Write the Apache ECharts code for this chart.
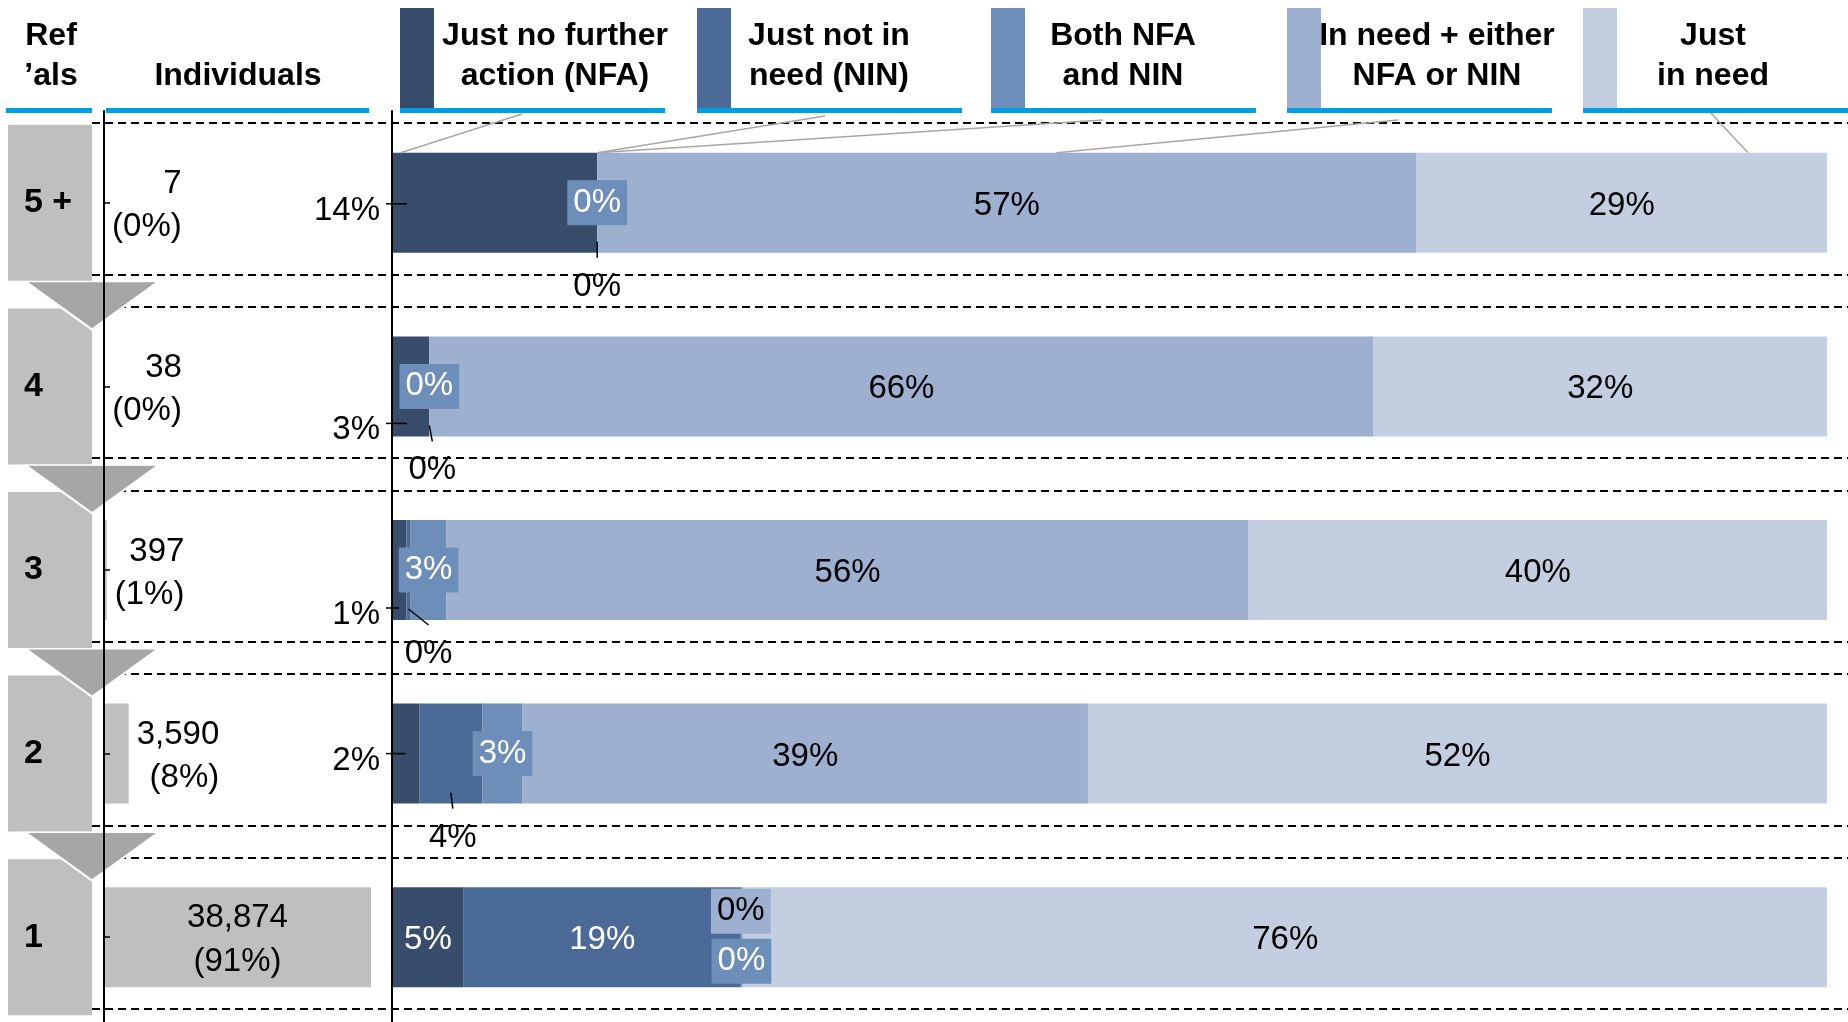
<!DOCTYPE html>
<html>
<head>
<meta charset="utf-8">
<title>Referrals</title>
<script src="https://cdn.jsdelivr.net/npm/echarts@6.0.0/dist/echarts.min.js"></script>
<style>
  html, body { margin: 0; padding: 0; background: #fff; }
  #chart { width: 1848px; height: 1022px; }
</style>
</head>
<body>
<div id="chart"></div>
<script>
// rows, top to bottom
var rowNames = ['5 +', '4', '3', '2', '1'];
var individuals = [7, 38, 397, 3590, 38874];

// share of each row's individuals, in %
var justNFA    = [14.3, 2.6, 1.0, 1.9, 5.0];
var justNIN    = [0, 0, 0.3, 4.4, 19.3];
var bothNFANIN = [0, 0, 2.5, 2.8, 0.1];
var needEither = [57.1, 65.8, 55.9, 39.4, 0.1];
var justNeed   = [28.6, 31.6, 40.3, 51.5, 75.5];

var seriesNames = ['Just no further action (NFA)', 'Just not in need (NIN)', 'Both NFA and NIN',
                   'In need + either NFA or NIN', 'Just in need'];
var legendLines = [['Just no further', 'action (NFA)'], ['Just not in', 'need (NIN)'],
                   ['Both NFA', 'and NIN'], ['In need + either', 'NFA or NIN'], ['Just', 'in need']];

var colors = ['#384c6c', '#4b6a98', '#6d8eb9', '#9db0cf', '#c3cee0'];
var FONT = "'Liberation Sans', Arial, sans-serif";
var BLUE = '#009fe3';
var BAR_H = 100;
var TEXT_DY = 3;   // glyphs sit a little low in the original

// where the moved labels sit (px nudges)
var nfaLabelDy = [5, 41, 42, 4, null];             // null = stays inside the bar
var ninLabelOffset = [[0, 81], [3, 81], [20, 81], [2, 81], null];
var bothLabelOffset = [[0, 0], [0, 0], [0, 0], [0, 0], [0, 24]];
var eitherLabelOffset = [null, null, null, null, [-2, -26]];

// header / legend blocks
var legendX = [400, 697, 991, 1287, 1583];
var legendTextX = [555, 829, 1123, 1437, 1713];
var legendAnchor = [[522, 114], [825, 116], [1103, 120], [1398, 120], [1708, 110]];
var legendTarget = [0.6, 14.3, 14.3, 46.3, 94.5];

var segData = [justNFA, justNIN, bothNFANIN, needEither, justNeed];
var total = individuals.reduce(function (a, b) { return a + b; }, 0);

var GRID_TOP = 111, GRID_H = 918;

// dashed separators: top and bottom of every row box
var dashY = [];
rowNames.forEach(function (n, r) {
    dashY.push([0, r - 0.02 - 0.412], [0, r - 0.02 + 0.412]);
});

function segLabel(s, r) {
    if (s === 0) {
        return nfaLabelDy[r] === null
            ? { position: 'inside', offset: [0, TEXT_DY], color: '#fff' }
            : { position: 'left', distance: 12, offset: [0, nfaLabelDy[r] + TEXT_DY], color: '#000' };
    }
    if (s === 1) {
        return ninLabelOffset[r] === null
            ? { position: 'inside', offset: [0, TEXT_DY], color: '#fff' }
            : { position: 'inside', offset: [ninLabelOffset[r][0], ninLabelOffset[r][1] + TEXT_DY],
                color: '#000' };
    }
    if (s === 2) {
        return { position: 'inside', offset: bothLabelOffset[r], color: '#fff',
                 backgroundColor: colors[2], padding: [6, 6, 6, 6], lineHeight: 33 };
    }
    if (s === 3 && eitherLabelOffset[r]) {
        return { position: 'inside', offset: eitherLabelOffset[r], color: '#000',
                 backgroundColor: colors[3], padding: [6, 6, 6, 6], lineHeight: 33 };
    }
    return { position: 'inside', offset: [0, TEXT_DY], color: '#000' };
}

var barSeries = segData.map(function (arr, s) {
    return {
        name: seriesNames[s],
        type: 'bar',
        stack: 'share',
        xAxisIndex: 3,
        yAxisIndex: 4,
        barWidth: BAR_H,
        itemStyle: { color: colors[s] },
        label: {
            show: true,
            fontSize: 33,
            fontFamily: FONT,
            textBorderWidth: 0,
            formatter: function (p) { return Math.round(p.value) + '%'; }
        },
        data: arr.map(function (v, r) { return { value: v, label: segLabel(s, r) }; }),
        z: 2
    };
});

var graphics = [
    { type: 'text', x: 51, y: 56, z: 20,
      style: { text: 'Ref\n\u2019als', fontSize: 32, fontWeight: 'bold', fontFamily: FONT,
               fill: '#000', align: 'center', verticalAlign: 'middle', lineHeight: 40 } },
    { type: 'text', x: 238, y: 76, z: 20,
      style: { text: 'Individuals', fontSize: 32, fontWeight: 'bold', fontFamily: FONT,
               fill: '#000', align: 'center', verticalAlign: 'middle' } },
    { type: 'rect', z: 20, shape: { x: 6, y: 108, width: 86, height: 5 }, style: { fill: BLUE } },
    { type: 'rect', z: 20, shape: { x: 106, y: 108, width: 263, height: 5 }, style: { fill: BLUE } }
];
legendLines.forEach(function (lines, i) {
    graphics.push(
        { type: 'rect', z: 20, shape: { x: legendX[i], y: 8, width: 34, height: 100 },
          style: { fill: colors[i] } },
        { type: 'rect', z: 20, shape: { x: legendX[i], y: 108, width: 265, height: 5 },
          style: { fill: BLUE } },
        { type: 'text', x: legendTextX[i], y: 56, z: 20,
          style: { text: lines.join('\n'), fontSize: 32, fontWeight: 'bold', fontFamily: FONT,
                   fill: '#000', align: 'center', verticalAlign: 'middle', lineHeight: 40 } }
    );
});

var chart = echarts.init(document.getElementById('chart'));
var option = {
    animation: false,
    backgroundColor: '#fff',
    textStyle: { fontFamily: FONT },
    graphic: graphics,
    grid: [
        { left: 92, right: 0, top: GRID_TOP, height: GRID_H, outerBoundsMode: 'none' },   // separators
        { left: 8, width: 84, top: GRID_TOP, height: GRID_H, outerBoundsMode: 'none' },   // Ref'als boxes
        { left: 104, width: 267, top: GRID_TOP, height: GRID_H, outerBoundsMode: 'none' },// individuals
        { left: 392, width: 1435, top: GRID_TOP, height: GRID_H, outerBoundsMode: 'none' } // outcome bars
    ],
    xAxis: [
        { type: 'value', gridIndex: 0, min: 0, max: 1, show: false },
        { type: 'value', gridIndex: 1, min: 0, max: 1, show: false },
        { type: 'value', gridIndex: 2, min: 0, max: Math.max.apply(null, individuals), show: false },
        { type: 'value', gridIndex: 3, min: 0, max: 100, show: false }
    ],
    yAxis: [
        { type: 'value', gridIndex: 0, min: -0.5, max: 4.5, inverse: true, show: false },
        { type: 'category', gridIndex: 1, data: rowNames, inverse: true, show: false },
        { type: 'value', gridIndex: 1, min: -0.5, max: 4.5, inverse: true, show: false },
        { type: 'category', gridIndex: 2, data: rowNames, inverse: true, z: 10,
          axisLine: { show: true, lineStyle: { color: '#000', width: 2 } },
          axisTick: { show: true, inside: true, length: 6, alignWithLabel: true,
                      lineStyle: { color: '#000', width: 1.5 } },
          axisLabel: { show: false }, splitLine: { show: false } },
        { type: 'category', gridIndex: 3, data: rowNames, inverse: true, z: 10,
          axisLine: { show: true, lineStyle: { color: '#000', width: 2 } },
          axisTick: { show: false }, axisLabel: { show: false }, splitLine: { show: false } }
    ],
    series: [
        {
            type: 'custom',
            xAxisIndex: 0,
            yAxisIndex: 0,
            silent: true,
            z: 1,
            data: dashY,
            renderItem: function (params, api) {
                var cs = params.coordSys;
                var y = Math.round(api.coord([0, api.value(1)])[1]);
                return {
                    type: 'line',
                    shape: { x1: cs.x, y1: y, x2: cs.x + cs.width, y2: y },
                    style: { stroke: '#000', lineWidth: 2, lineDash: [8, 5] }
                };
            }
        },
        {
            type: 'bar',
            xAxisIndex: 1,
            yAxisIndex: 1,
            barWidth: 156,
            silent: true,
            z: 2,
            itemStyle: { color: '#bfbfbf' },
            label: { show: true, position: 'insideLeft', distance: 16, formatter: '{b}',
                     fontSize: 34, fontWeight: 'bold', fontFamily: FONT, color: '#000',
                     textBorderWidth: 0 },
            data: rowNames.map(function () { return 1; })
        },
        {
            type: 'scatter',
            xAxisIndex: 1,
            yAxisIndex: 2,
            silent: true,
            clip: false,
            z: 3,
            symbol: 'triangle',
            symbolRotate: 180,
            symbolSize: [133, 48],
            itemStyle: { color: '#a6a6a6', borderColor: '#fff', borderWidth: 2, opacity: 1 },
            data: rowNames.slice(1).map(function (n, i) { return [1, i + 0.56]; })
        },
        {
            name: 'Individuals',
            type: 'bar',
            xAxisIndex: 2,
            yAxisIndex: 3,
            barWidth: BAR_H,
            z: 4,
            itemStyle: { color: '#bfbfbf' },
            label: {
                show: true,
                textBorderWidth: 0,
                offset: [0, TEXT_DY],
                formatter: function (p) {
                    var st = p.value / total > 0.5 ? 'c' : 'r';
                    var pct = Math.round(p.value / total * 100);
                    return '{' + st + '|' + p.value.toLocaleString('en-US') + '}\n{' +
                           st + '|(' + pct + '%)}';
                },
                rich: {
                    r: { align: 'right', fontSize: 33, lineHeight: 43, fontFamily: FONT, color: '#000' },
                    c: { align: 'center', fontSize: 33, lineHeight: 44, fontFamily: FONT, color: '#000' }
                }
            },
            data: individuals.map(function (v) {
                return {
                    value: v,
                    label: v / total > 0.5 ? { position: 'inside' } : { position: 'right', distance: 8 }
                };
            })
        }
    ].concat(barSeries).concat([
        {
            // leader lines for the moved labels and the legend call-outs
            type: 'custom',
            xAxisIndex: 3,
            yAxisIndex: 4,
            silent: true,
            z: 5,
            data: rowNames.map(function (n, r) { return [0, r]; }),
            renderItem: function (params, api) {
                var r = params.dataIndex;
                var base = api.coord([0, r]);
                var x0 = base[0], rowY = base[1];
                var kids = [];
                var ink = { stroke: '#000', lineWidth: 1.5 };
                if (nfaLabelDy[r] !== null) {
                    var ly = rowY + nfaLabelDy[r] - 4;
                    var xe = Math.min(api.coord([justNFA[r] / 2, r])[0], x0 + 15);
                    kids.push({ type: 'line', shape: { x1: x0 - 6, y1: ly, x2: xe, y2: ly }, style: ink });
                }
                if (ninLabelOffset[r] !== null) {
                    var cx = api.coord([justNFA[r] + justNIN[r] / 2, r])[0];
                    var off = ninLabelOffset[r];
                    kids.push({ type: 'line',
                                shape: { x1: cx, y1: rowY + 39, x2: cx + off[0], y2: rowY + off[1] - 26 },
                                style: ink });
                }
                if (r === 0) {
                    legendAnchor.forEach(function (a, i) {
                        kids.push({ type: 'line',
                                    shape: { x1: a[0], y1: a[1],
                                             x2: api.coord([legendTarget[i], r])[0], y2: rowY - BAR_H / 2 },
                                    style: { stroke: '#a6a6a6', lineWidth: 1.5 } });
                    });
                }
                return { type: 'group', children: kids };
            }
        }
    ])
};
chart.setOption(option);
</script>
</body>
</html>
